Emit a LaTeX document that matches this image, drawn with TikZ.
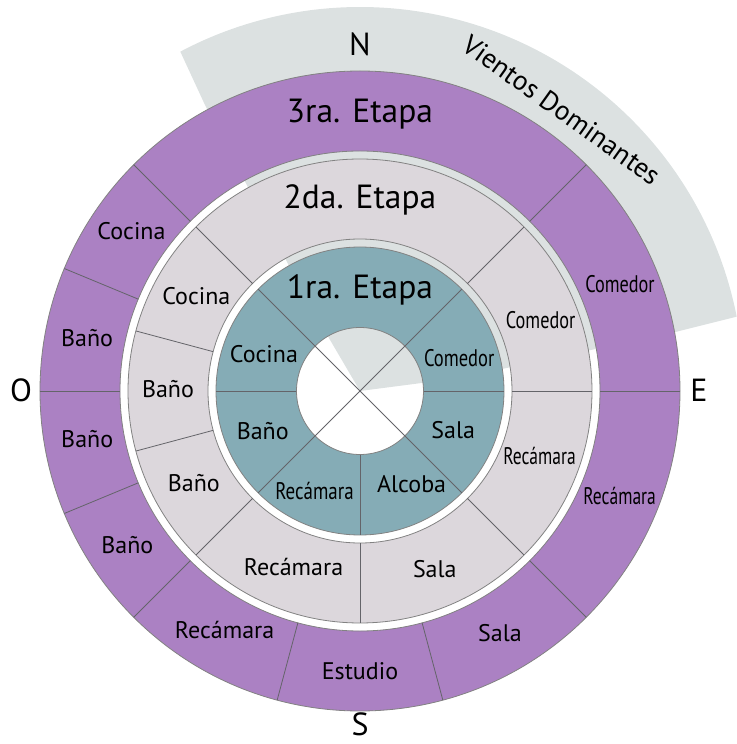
\documentclass[tikz,border=0pt]{standalone}
\usepackage{fontspec}
\setmainfont{PT Sans}
\usepackage{graphicx}

\definecolor{etapaTres}{RGB}{171,129,195}
\definecolor{etapaDos}{RGB}{220,215,220}
\definecolor{etapaUno}{RGB}{133,172,182}
\definecolor{viento}{RGB}{220,225,225}
\definecolor{linea}{RGB}{100,100,105}
\definecolor{borde}{RGB}{130,130,130}

\newcommand{\angosta}[2][0.78]{\scalebox{#1}[1]{#2}}

\tikzset{
    room/.style={font=\fontsize{24}{24}\selectfont, text height=16.5pt, text depth=0pt, inner sep=0pt},
    etapa/.style={font=\fontsize{33.5}{33.5}\selectfont, text height=22pt, text depth=0pt, inner sep=0pt},
    compass/.style={font=\fontsize{32}{32}\selectfont, text height=21.5pt, text depth=0pt, inner sep=0pt},
    divider/.style={draw=linea, line width=0.8pt},
    ringedge/.style={draw=borde, line width=0.8pt},
}

\begin{document}
\begin{tikzpicture}[x=1pt, y=1pt]
        \useasboundingbox (-360,-353) rectangle (376,391);

        % vientos dominantes
        \fill[viento] (0,0) -- (7.4:100pt) -- (316.7,59.3) -- (11.16:384pt)
            arc[start angle=11.16, end angle=117.9, radius=384pt]
            -- (-155,286) -- (120.4:100pt) -- cycle;

        % rings
        \fill[etapaTres, even odd rule] (0,0) circle[radius=320pt] circle[radius=240pt];
        \fill[etapaDos, even odd rule] (0,0) circle[radius=232pt] circle[radius=152pt];
        \fill[etapaUno, even odd rule] (0,0) circle[radius=144pt] circle[radius=63.5pt];
        \foreach \rad in {320, 240, 232, 152, 144, 63.5} {
            \draw[ringedge] (0,0) circle[radius=\rad pt];
        }

        % dividers
        \foreach \a in {45, 135, 225, 315} {
            \draw[divider] (0,0) -- (\a:144pt);
        }
        \foreach \a in {0, 180, 270} {
            \draw[divider] (\a:63.5pt) -- (\a:144pt);
        }
        \foreach \a in {0, 45, 135, 165, 195, 225, 270, 315} {
            \draw[divider] (\a:152pt) -- (\a:232pt);
        }
        \foreach \a in {0, 45, 135, 157.5, 180, 202.5, 225, 255, 285, 315} {
            \draw[divider] (\a:240pt) -- (\a:320pt);
        }
        \fill[linea] (0,0) circle[radius=1.2pt];

        \node[etapa] (etapa3) at (90:279pt) {3ra. Etapa};
        \node[etapa] (etapa2) at (90:193pt) {2da. Etapa};
        \node[etapa] (etapa1) at (90:103.5pt) {1ra. Etapa};

        \foreach \a/\rad/\txt [count=\k] in {145/279/Cocina, 169/278/Baño, 190/277/Baño,
                213.5/279/Baño, 240.5/275/Recámara, 270/280/Estudio, 300/280/Sala,
                338/280/\angosta[0.73]{Recámara}, 22.3/281/\angosta[0.76]{Comedor}} {
            \node[room] (tres-\k) at (\a:\rad pt) {\txt};
        }
        \foreach \a/\rad/\txt [count=\k] in {150/189/Cocina, 179.5/192/Baño, 209/190/Baño,
                249.3/188/Recámara, 292.8/193/Sala, 340/191/\angosta[0.73]{Recámara},
                21.4/194/\angosta[0.76]{Comedor}} {
            \node[room] (dos-\k) at (\a:\rad pt) {\txt};
        }
        \foreach \a/\rad/\txt [count=\k] in {158.9/103/Cocina, 202.7/105.4/Baño,
                245.7/110.5/\angosta[0.79]{Recámara}, 299/106.4/Alcoba, 337.3/101/Sala,
                18.2/104.4/\angosta[0.77]{Comedor}} {
            \node[room] (uno-\k) at (\a:\rad pt) {\txt};
        }

        \node[compass] (norte) at (90:346pt) {N};
        \node[compass] (este) at (0:339pt) {E};
        \node[compass] (sur) at (270:334pt) {S};
        \node[compass] (oeste) at (180:339pt) {O};

        \node[font=\fontsize{27.5}{27.5}\selectfont, inner sep=0pt, rotate=-35.5] (vientos)
            at (54.3:346pt) {Vientos Dominantes};
\end{tikzpicture}
\end{document}
